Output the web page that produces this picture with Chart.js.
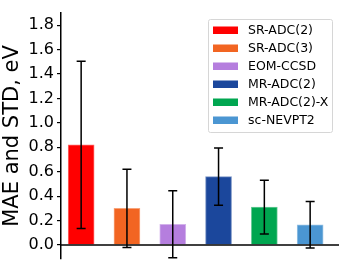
<!DOCTYPE html>
<html>
<head>
<meta charset="utf-8">
<script src="https://cdn.jsdelivr.net/npm/chart.js@4/dist/chart.umd.min.js"></script>
<style>
  html, body { margin: 0; padding: 0; background: #fff; }
  #wrap { width: 357px; height: 268px; }
</style>
</head>
<body>
<div id="wrap"><canvas id="chart" width="357" height="268"></canvas></div>
<script>
// данные с картинки
const methods = ['SR-ADC(2)', 'SR-ADC(3)', 'EOM-CCSD', 'MR-ADC(2)', 'MR-ADC(2)-X', 'sc-NEVPT2'];
const mae = [0.82, 0.30, 0.17, 0.56, 0.31, 0.165];
const std = [0.685, 0.32, 0.275, 0.235, 0.22, 0.19];
const colors = ['#ff0000', '#f26522', '#b57ede', '#1b479c', '#00a650', '#4b96d2'];
const yTicks = [0.0, 0.2, 0.4, 0.6, 0.8, 1.0, 1.2, 1.4, 1.6, 1.8];

const FONT = "'DejaVu Sans', sans-serif";

// одна серия на метод, чтобы легенда была по методам
const datasets = methods.map((name, i) => ({
    label: name,
    data: [{ x: i, y: mae[i] }],
    backgroundColor: colors[i],
    borderColor: colors[i] + '99',
    borderWidth: 1,
    barThickness: 26,
    grouped: false
}));

// линия y=0 и усы ошибок
const errorBars = {
    id: 'errorBars',
    afterDatasetsDraw(chart) {
        const ctx = chart.ctx;
        const xs = chart.scales.x, ys = chart.scales.y;
        const area = chart.chartArea;
        ctx.save();
        ctx.strokeStyle = '#000';
        ctx.lineWidth = 1.5;
        const y0 = ys.getPixelForValue(0);
        ctx.beginPath();
        ctx.moveTo(area.left, y0);
        ctx.lineTo(area.right, y0);
        ctx.stroke();
        methods.forEach((m, i) => {
            const x = xs.getPixelForValue(i);
            const yt = ys.getPixelForValue(mae[i] + std[i]);
            const yb = ys.getPixelForValue(mae[i] - std[i]);
            ctx.beginPath();
            ctx.moveTo(x, yt); ctx.lineTo(x, yb);
            ctx.moveTo(x - 4.5, yt); ctx.lineTo(x + 4.5, yt);
            ctx.moveTo(x - 4.5, yb); ctx.lineTo(x + 4.5, yb);
            ctx.stroke();
        });
        ctx.restore();
    }
};

// легенда в правом верхнем углу, как в matplotlib
const boxLegend = {
    id: 'boxLegend',
    afterDraw(chart) {
        const ctx = chart.ctx;
        const left = 208.5, top = 19.5, w = 124, h = 113;
        ctx.save();
        ctx.fillStyle = 'rgba(255,255,255,0.8)';
        ctx.strokeStyle = '#d6d6d6';
        ctx.lineWidth = 1;
        ctx.beginPath();
        ctx.roundRect(left, top, w, h, 2);
        ctx.fill();
        ctx.stroke();
        ctx.font = '12.5px ' + FONT;
        ctx.textBaseline = 'middle';
        chart.data.datasets.forEach((ds, i) => {
            const cy = 30 + i * 18;
            ctx.fillStyle = ds.backgroundColor;
            ctx.fillRect(213, cy - 3.5, 25, 7.5);
            ctx.fillStyle = '#000';
            ctx.fillText(ds.label, 248, cy + 0.5);
        });
        ctx.restore();
    }
};

new Chart(document.getElementById('chart'), {
    type: 'bar',
    data: { datasets: datasets },
    options: {
        responsive: false,
        animation: false,
        layout: { padding: { left: 0, right: 18, top: 13, bottom: 9 } },
        plugins: { legend: { display: false }, tooltip: { enabled: false } },
        scales: {
            x: {
                type: 'linear',
                min: -0.44,
                max: 5.63,
                offset: false,
                display: false
            },
            y: {
                min: -0.115,
                max: 1.9,
                afterFit(scale) {
                    scale.width = 61;
                    scale.paddingTop = 0;
                    scale.paddingBottom = 0;
                },
                afterBuildTicks(scale) { scale.ticks = yTicks.map(v => ({ value: v })); },
                border: { display: true, color: '#000', width: 1.5 },
                grid: { drawOnChartArea: false, drawTicks: true, tickLength: 4, color: '#000', lineWidth: 1.2 },
                ticks: {
                    padding: 3,
                    color: '#000',
                    font: { family: FONT, size: 16 },
                    callback: v => v.toFixed(1)
                },
                title: {
                    display: true,
                    text: 'MAE and STD, eV',
                    color: '#000',
                    font: { family: FONT, size: 21 },
                    padding: { top: 0, bottom: 0 }
                }
            }
        }
    },
    plugins: [errorBars, boxLegend]
});
</script>
</body>
</html>
